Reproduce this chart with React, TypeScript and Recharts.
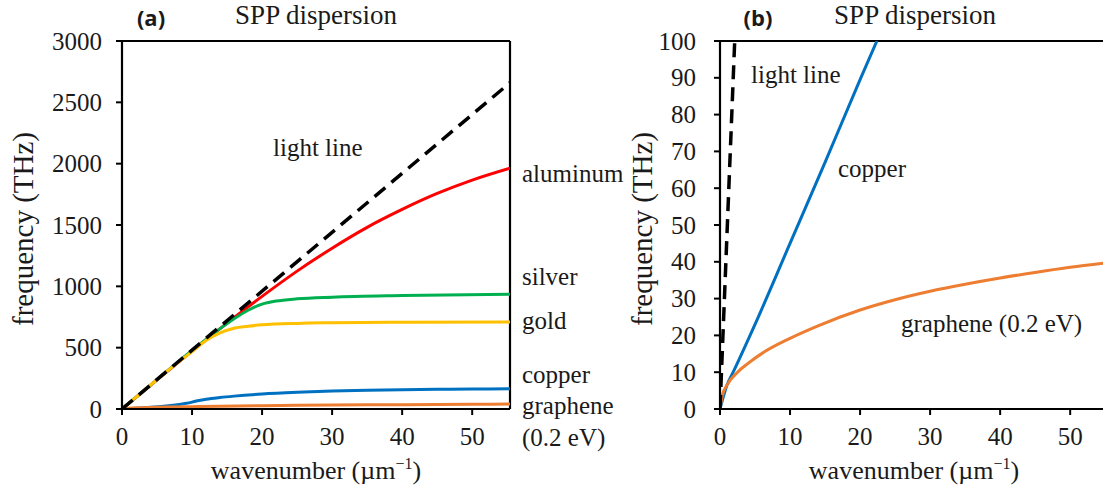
import React from 'react';
import { LineChart, Line, XAxis, YAxis, ReferenceLine, Label } from 'recharts';

const SERIF = '"Liberation Serif", "Times New Roman", serif';
const SANS = '"Open Sans", "Liberation Sans", sans-serif';
const INK = '#1a1a1a';

// wavenumber axis (1/µm), shared by both panels
const K_MAX = 55.4;
const kTicks = [0, 10, 20, 30, 40, 50];

// panel (a) frequency ticks (THz)
const fTicksA = [0, 500, 1000, 1500, 2000, 2500, 3000];
// panel (b) frequency ticks (THz)
const fTicksB = [0, 10, 20, 30, 40, 50, 60, 70, 80, 90, 100];

// panel (a) curves: wavenumber / frequency pairs
const lightAK = [0, 55.4];
const lightAF = [0, 2660];

const aluminumK = [0, 5, 10, 15, 20, 25, 30, 35, 40, 45, 50, 55.4];
const aluminumF = [0, 238, 473, 700, 918, 1124, 1311, 1481, 1627, 1757, 1866, 1963];

const silverK = [0, 5, 10, 12, 14, 16, 18, 20, 22, 25, 30, 40, 55.4];
const silverF = [0, 240, 478, 568, 655, 735, 805, 855, 880, 898, 912, 925, 935];

const goldK = [0, 4, 8, 10, 12, 14, 16, 18, 20, 25, 30, 40, 55.4];
const goldF = [0, 192, 380, 468, 558, 620, 658, 675, 686, 698, 703, 707, 710];

const copperAK = [0, 9, 10, 11, 12, 14, 16, 20, 25, 30, 35, 40, 45, 50, 55.4];
const copperAF = [0, 45, 56, 70, 80, 94, 105, 122, 136, 146, 152, 157, 160, 163, 165];

// graphene (0.2 eV) appears in both panels
const grapheneK = [0, 0.3, 1, 2.5, 4, 6.4, 10, 14, 20, 25, 30, 35, 40, 45, 50, 55.4];
const grapheneF = [0, 3.5, 6.5, 10, 12.4, 15.6, 19.2, 22.6, 26.9, 29.7, 32, 33.9, 35.6, 37.1, 38.5, 39.8];

// panel (b) curves
const lightBK = [0, 2.1];
const lightBF = [0, 100];

const copperBK = [0, 1, 2, 5, 10, 15, 20, 22.4];
const copperBF = [0, 6.5, 10.5, 23, 45, 67, 89.5, 100];

type Point = { k: number; f: number };
type Series = { name: string; points: Point[]; color: string; dashed?: boolean };

const curve = (k: number[], f: number[]): Point[] => k.map((x, i) => ({ k: x, f: f[i] }));

const RED = '#ff0000';
const GREEN = '#00b050';
const GOLD = '#ffc000';
const BLUE = '#0070c0';
const ORANGE = '#ed7d31';

// draw order: later entries sit on top
const seriesA: Series[] = [
  { name: 'aluminum', points: curve(aluminumK, aluminumF), color: RED },
  { name: 'silver', points: curve(silverK, silverF), color: GREEN },
  { name: 'gold', points: curve(goldK, goldF), color: GOLD },
  { name: 'copper', points: curve(copperAK, copperAF), color: BLUE },
  { name: 'graphene', points: curve(grapheneK, grapheneF), color: ORANGE },
  { name: 'light line', points: curve(lightAK, lightAF), color: '#000', dashed: true },
];

const seriesB: Series[] = [
  { name: 'copper', points: curve(copperBK, copperBF), color: BLUE },
  { name: 'graphene', points: curve(grapheneK, grapheneF), color: ORANGE },
  { name: 'light line', points: curve(lightBK, lightBF), color: '#000', dashed: true },
];

const AXIS_LINE = { stroke: '#000', strokeWidth: 2.2 };
const TICK_LINE = { stroke: '#000', strokeWidth: 2 };

// serif tick labels; bottom ticks hang below the anchor, left ticks are centred on it
const SerifTick = (props: any) => {
  const { x, y, payload, textAnchor, orientation } = props;
  const dy = orientation === 'bottom' ? 18 : 8.5;
  return (
    <text
      x={x}
      y={y}
      dy={dy}
      textAnchor={textAnchor}
      fontSize={25}
      fontFamily={SERIF}
      style={{ fontFamily: SERIF }}
      fill={INK}
    >
      {payload.value}
    </text>
  );
};

const WavenumberTitle = (props: any) => {
  const { x, y, width } = props.viewBox;
  return (
    <text x={x + width / 2} y={y + 70} textAnchor="middle" fontSize={26} fontFamily={SERIF} fill={INK}>
      wavenumber (µm
      <tspan dy={-10} fontSize={16}>−1</tspan>
      <tspan dy={10}>)</tspan>
    </text>
  );
};

interface PanelProps {
  width: number;
  axisWidth: number;
  marginRight: number;
  yMax: number;
  yTicks: number[];
  yTickMargin: number;
  yTitleDx: number;
  series: Series[];
}

const Panel: React.FC<PanelProps> = ({ width, axisWidth, marginRight, yMax, yTicks, yTickMargin, yTitleDx, series }) => (
  <LineChart width={width} height={495} margin={{ top: 41, right: marginRight, bottom: 6, left: 0 }}>
    <XAxis
      type="number"
      dataKey="k"
      domain={[0, K_MAX]}
      ticks={kTicks}
      allowDataOverflow
      height={80}
      tickSize={6}
      tickMargin={12}
      axisLine={AXIS_LINE}
      tickLine={TICK_LINE}
      tick={SerifTick}
    >
      <Label content={WavenumberTitle} />
    </XAxis>
    <YAxis
      type="number"
      dataKey="f"
      domain={[0, yMax]}
      ticks={yTicks}
      allowDataOverflow
      width={axisWidth}
      tickSize={6}
      tickMargin={yTickMargin}
      axisLine={AXIS_LINE}
      tickLine={TICK_LINE}
      tick={SerifTick}
    >
      <Label
        value="frequency (THz)"
        angle={-90}
        position="center"
        dx={yTitleDx}
        dy={4}
        fontSize={29}
        fontFamily={SERIF}
        fill={INK}
      />
    </YAxis>
    <ReferenceLine y={yMax} stroke="#000" strokeWidth={2.2} />
    <ReferenceLine x={K_MAX} stroke="#000" strokeWidth={2.2} />
    {series.map((s) => (
      <Line
        key={s.name}
        data={s.points}
        dataKey="f"
        type={s.dashed ? 'linear' : 'monotone'}
        stroke={s.color}
        strokeWidth={s.dashed ? 3.5 : 3}
        strokeDasharray={s.dashed ? '14 8' : undefined}
        dot={false}
        activeDot={false}
        isAnimationActive={false}
      />
    ))}
  </LineChart>
);

interface NoteProps {
  x: number;
  y: number;
  size?: number;
  bold?: boolean;
  centered?: boolean;
  children: React.ReactNode;
}

const Note: React.FC<NoteProps> = ({ x, y, size = 25, bold = false, centered = false, children }) => (
  <div
    style={{
      position: 'absolute',
      left: x,
      top: y,
      transform: centered ? 'translate(-50%, -50%)' : 'translateY(-50%)',
      fontSize: size,
      fontWeight: bold ? 700 : 400,
      fontFamily: bold ? SANS : SERIF,
      lineHeight: 1.1,
      whiteSpace: 'nowrap',
      color: INK,
    }}
  >
    {children}
  </div>
);

export default function App() {
  return (
    <div
      style={{
        position: 'absolute',
        left: 0,
        top: 0,
        width: 1103,
        height: 495,
        overflow: 'hidden',
        background: '#fff',
        fontFamily: SERIF,
      }}
    >
      <div style={{ position: 'absolute', left: 0, top: 0 }}>
        <Panel
          width={640}
          axisWidth={122}
          marginRight={130}
          yMax={3000}
          yTicks={fTicksA}
          yTickMargin={14}
          yTitleDx={-38}
          series={seriesA}
        />
      </div>
      <div style={{ position: 'absolute', left: 600, top: 0 }}>
        <Panel
          width={600}
          axisWidth={120}
          marginRight={92}
          yMax={100}
          yTicks={fTicksB}
          yTickMargin={18}
          yTitleDx={-18}
          series={seriesB}
        />
      </div>

      <Note x={151} y={17} size={22} bold centered>(a)</Note>
      <Note x={316} y={16} size={27} centered>SPP dispersion</Note>
      <Note x={273} y={148}>light line</Note>
      <Note x={522} y={174}>aluminum</Note>
      <Note x={522} y={277}>silver</Note>
      <Note x={522} y={321}>gold</Note>
      <Note x={522} y={375}>copper</Note>
      <Note x={522} y={406}>graphene</Note>
      <Note x={522} y={438}>(0.2 eV)</Note>

      <Note x={758} y={17} size={22} bold centered>(b)</Note>
      <Note x={915} y={16} size={27} centered>SPP dispersion</Note>
      <Note x={751} y={75}>light line</Note>
      <Note x={838} y={169}>copper</Note>
      <Note x={901} y={324}>graphene (0.2 eV)</Note>
    </div>
  );
}
